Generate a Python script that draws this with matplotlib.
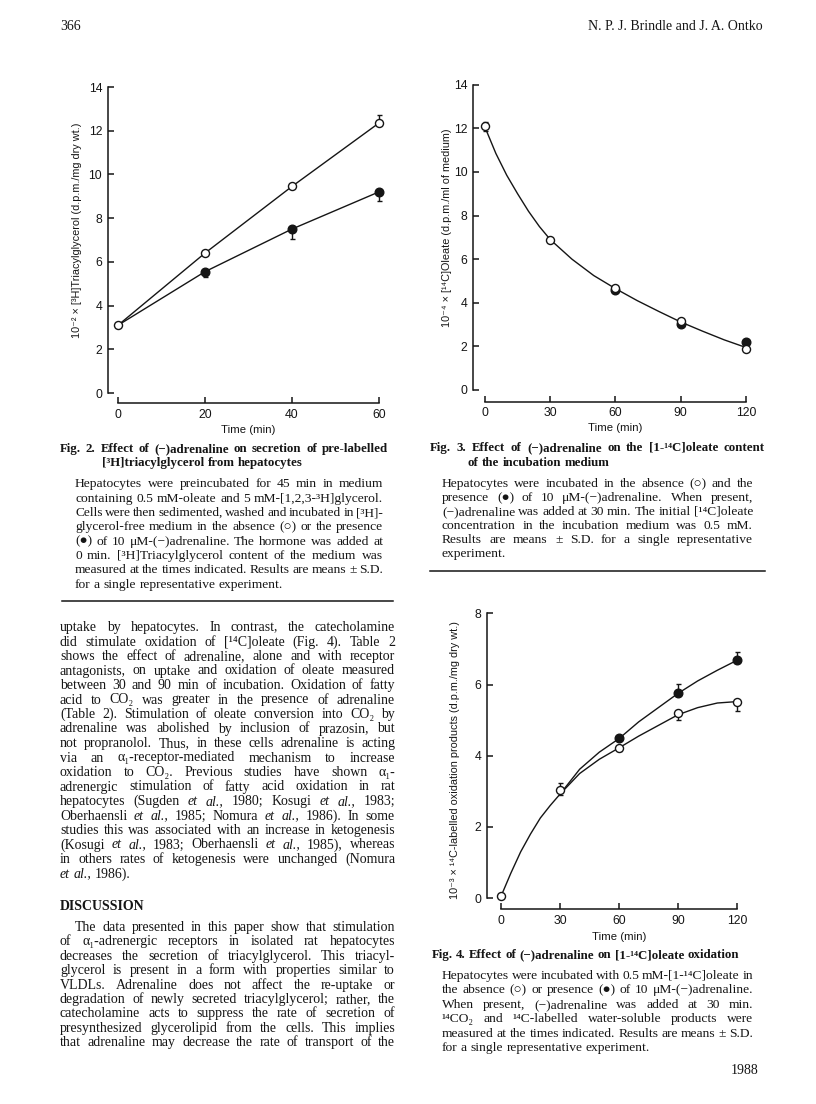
import matplotlib
matplotlib.use("Agg")
import matplotlib.pyplot as plt
from matplotlib.lines import Line2D
from matplotlib.transforms import IdentityTransform

W, H = 816, 1104
SERIF = ["Liberation Serif", "DejaVu Serif"]
SANS = ["Liberation Sans", "DejaVu Sans"]
INK = "#151515"
BODY = 10.0
CAPTION = 9.7
TITLE = 9.25

# ---- Fig. 2 : [3H]triacylglycerol secretion ----
fig2_time = [0, 20, 40, 60]
fig2_open = [3.1, 6.4, 9.45, 12.35]
fig2_open_err_up = [0, 0, 0, 0.35]
fig2_filled = [3.1, 5.55, 7.5, 9.2]
fig2_filled_err_down = [0, 0.22, 0.45, 0.4]

# ---- Fig. 3 : [14C]oleate in medium ----
fig3_open_time = [0, 30, 60, 90, 120]
fig3_open = [12.1, 6.9, 4.7, 3.17, 1.9]
fig3_open_err = [0.2, 0, 0, 0, 0]
fig3_filled_time = [60, 90, 120]
fig3_filled = [4.6, 3.05, 2.2]
fig3_curve_time = [0, 5, 10, 15, 20, 25, 30, 40, 50, 60, 70, 80, 90, 100, 110, 120]
fig3_curve = [12.05, 10.85, 9.85, 9.0, 8.2, 7.5, 6.9, 6.0, 5.25, 4.65, 4.1, 3.6, 3.12, 2.7, 2.3, 1.95]

# ---- Fig. 4 : oleate oxidation ----
fig4_open_time = [0, 30, 60, 90, 120]
fig4_open = [0.05, 3.05, 4.22, 5.2, 5.52]
fig4_open_err_low = [0, 0.15, 0.08, 0.2, 0.27]
fig4_open_err_high = [0, 0.17, 0, 0, 0]
fig4_filled_time = [60, 90, 120]
fig4_filled = [4.5, 5.77, 6.7]
fig4_filled_err_up = [0, 0.25, 0.2]
fig4_curve_time = [0, 5, 10, 15, 20, 25, 30]
fig4_curve = [0.05, 0.7, 1.3, 1.8, 2.25, 2.6, 2.92]
fig4_open_curve_time = [30, 40, 50, 60, 70, 80, 90, 100, 110, 120]
fig4_open_curve = [2.92, 3.5, 3.9, 4.22, 4.55, 4.85, 5.15, 5.35, 5.48, 5.52]
fig4_filled_curve_time = [30, 40, 50, 60, 70, 80, 90, 100, 110, 120]
fig4_filled_curve = [2.92, 3.62, 4.1, 4.48, 4.95, 5.35, 5.75, 6.1, 6.4, 6.68]

# ---- page text ----
fig2_title = ["Fig. 2. Effect of (−)adrenaline on secretion of pre-labelled",
              "[³H]triacylglycerol from hepatocytes"]
fig2_body = ["Hepatocytes were preincubated for 45 min in medium",
             "containing 0.5 mM-oleate and 5 mM-[1,2,3-³H]glycerol.",
             "Cells were then sedimented, washed and incubated in [³H]-",
             "glycerol-free medium in the absence (○) or the presence",
             "(●) of 10 μM-(−)adrenaline. The hormone was added at",
             "0 min. [³H]Triacylglycerol content of the medium was",
             "measured at the times indicated. Results are means ± S.D.",
             "for a single representative experiment."]
fig3_title = ["Fig. 3. Effect of (−)adrenaline on the [1-¹⁴C]oleate content",
              "of the incubation medium"]
fig3_body = ["Hepatocytes were incubated in the absence (○) and the",
             "presence (●) of 10 μM-(−)adrenaline. When present,",
             "(−)adrenaline was added at 30 min. The initial [¹⁴C]oleate",
             "concentration in the incubation medium was 0.5 mM.",
             "Results are means ± S.D. for a single representative",
             "experiment."]
fig4_title = ["Fig. 4. Effect of (−)adrenaline on [1-¹⁴C]oleate oxidation"]
fig4_body = ["Hepatocytes were incubated with 0.5 mM-[1-¹⁴C]oleate in",
             "the absence (○) or presence (●) of 10 μM-(−)adrenaline.",
             "When present, (−)adrenaline was added at 30 min.",
             "¹⁴CO₂ and ¹⁴C-labelled water-soluble products were",
             "measured at the times indicated. Results are means ± S.D.",
             "for a single representative experiment."]
results_text = ["uptake by hepatocytes. In contrast, the catecholamine",
                "did stimulate oxidation of [¹⁴C]oleate (Fig. 4). Table 2",
                "shows the effect of adrenaline, alone and with receptor",
                "antagonists, on uptake and oxidation of oleate measured",
                "between 30 and 90 min of incubation. Oxidation of fatty",
                "acid to CO₂ was greater in the presence of adrenaline",
                "(Table 2). Stimulation of oleate conversion into CO₂ by",
                "adrenaline was abolished by inclusion of prazosin, but",
                "not propranolol. Thus, in these cells adrenaline is acting",
                "via an α₁-receptor-mediated mechanism to increase",
                "oxidation to CO₂. Previous studies have shown α₁-",
                "adrenergic stimulation of fatty acid oxidation in rat",
                "hepatocytes (Sugden *et *al., 1980; Kosugi *et *al., 1983;",
                "Oberhaensli *et *al., 1985; Nomura *et *al., 1986). In some",
                "studies this was associated with an increase in ketogenesis",
                "(Kosugi *et *al., 1983; Oberhaensli *et *al., 1985), whereas",
                "in others rates of ketogenesis were unchanged (Nomura",
                "*et *al., 1986)."]
discussion_text = ["The data presented in this paper show that stimulation",
                   "of α₁-adrenergic receptors in isolated rat hepatocytes",
                   "decreases the secretion of triacylglycerol. This triacyl-",
                   "glycerol is present in a form with properties similar to",
                   "VLDLs. Adrenaline does not affect the re-uptake or",
                   "degradation of newly secreted triacylglycerol; rather, the",
                   "catecholamine acts to suppress the rate of secretion of",
                   "presynthesized glycerolipid from the cells. This implies",
                   "that adrenaline may decrease the rate of transport of the"]

fig = plt.figure(figsize=(W / 100, H / 100), dpi=100)
fig.patch.set_facecolor("white")
renderer = fig.canvas.get_renderer()


def put_line(x0, x1, y, line, size=BODY, weight="normal", justify=True):
    # place words one by one so the line can be justified between x0 and x1
    arts = []
    for w in line.split(" "):
        style = "normal"
        if w.startswith("*"):
            w, style = w[1:], "italic"
        arts.append(fig.text(0, 0, w, transform=IdentityTransform(), fontsize=size,
                             family=SERIF, weight=weight, style=style, color=INK,
                             ha="left", va="baseline"))
    widths = [a.get_window_extent(renderer).width for a in arts]
    gap = size * 0.25 * 100 / 72
    if justify and len(arts) > 1:
        gap = (x1 - x0 - sum(widths)) / (len(arts) - 1)
        if gap < 2.0:
            # squeeze the font a little when the line is too long
            scale = (x1 - x0 - 2.0 * (len(arts) - 1)) / sum(widths)
            for a in arts:
                a.set_fontsize(size * scale)
            widths = [a.get_window_extent(renderer).width for a in arts]
            gap = (x1 - x0 - sum(widths)) / (len(arts) - 1)
    x = x0
    for a, wd in zip(arts, widths):
        a.set_position((x, H - y - 4))
        x += wd + gap


def put_block(x0, x1, y0, step, lines, size=BODY, weight="normal", last_justified=False):
    for i, ln in enumerate(lines):
        last = i == len(lines) - 1
        put_line(x0, x1, y0 + i * step, ln, size, weight, justify=(not last) or last_justified)


def hrule(x0, x1, y):
    fig.add_artist(Line2D([x0, x1], [H - y, H - y], transform=IdentityTransform(),
                          color=INK, lw=1.1))


def px_axes(left, top, right, bottom):
    return fig.add_axes([left / W, 1 - bottom / H, (right - left) / W, (bottom - top) / H])


def style_axes(ax, xlim, ylim, xticks, yticks):
    ax.set_xlim(*xlim)
    ax.set_ylim(*ylim)
    ax.set_facecolor("none")
    for s in ("top", "right"):
        ax.spines[s].set_visible(False)
    ax.spines["left"].set_bounds(yticks[0], yticks[-1])
    ax.spines["bottom"].set_bounds(xticks[0], xticks[-1])
    for s in ("left", "bottom"):
        ax.spines[s].set_linewidth(1.1)
        ax.spines[s].set_color(INK)
    ax.set_xticks(xticks)
    ax.set_yticks(yticks)
    ax.tick_params(direction="in", length=4, width=1.1, colors=INK, labelsize=8.8, pad=4)
    for lb in ax.get_xticklabels() + ax.get_yticklabels():
        lb.set_family(SANS)


def open_pts(ax, x, y):
    ax.plot(x, y, "o", ms=5.8, mfc="white", mec=INK, mew=1.0, zorder=4, ls="none")


def filled_pts(ax, x, y):
    ax.plot(x, y, "o", ms=6.2, mfc=INK, mec=INK, zorder=4, ls="none")


def bars(ax, x, y, low, high):
    ax.errorbar(x, y, yerr=[low, high], fmt="none", ecolor=INK, elinewidth=1.0,
                capsize=1.8, capthick=1.0, zorder=2)


def ylab(x, y, s):
    fig.text(x, H - y, s, transform=IdentityTransform(), rotation=90, fontsize=7.8,
             family=SANS, color=INK, ha="center", va="center")


def xlab(x, y):
    fig.text(x, H - y, "Time (min)", transform=IdentityTransform(), fontsize=8.2,
             family=SANS, color=INK, ha="center", va="center")


# header
fig.text(60, H - 30, "366", transform=IdentityTransform(), fontsize=10, family=SERIF, color=INK)
fig.text(763, H - 30, "N. P. J. Brindle and J. A. Ontko", transform=IdentityTransform(),
         fontsize=10, family=SERIF, color=INK, ha="right")

# Fig. 2
ax2 = px_axes(107.7, 87, 385, 403)
ax2.plot(fig2_time, fig2_open, color=INK, lw=1.0, zorder=3)
ax2.plot(fig2_time, fig2_filled, color=INK, lw=1.0, zorder=3)
bars(ax2, fig2_time, fig2_open, [0] * 4, fig2_open_err_up)
bars(ax2, fig2_time, fig2_filled, fig2_filled_err_down, [0] * 4)
filled_pts(ax2, fig2_time[1:], fig2_filled[1:])
open_pts(ax2, fig2_time, fig2_open)
style_axes(ax2, (-2.37, 61.4), (-0.457, 14), [0, 20, 40, 60], list(range(0, 15, 2)))
ylab(77, 230, "10⁻² × [³H]Triacylglycerol (d.p.m./mg dry wt.)")
xlab(248, 430)

# Fig. 3
ax3 = px_axes(473, 84.8, 754, 401.7)
ax3.plot(fig3_curve_time, fig3_curve, color=INK, lw=1.0, zorder=3)
bars(ax3, fig3_open_time, fig3_open, fig3_open_err, fig3_open_err)
filled_pts(ax3, fig3_filled_time, fig3_filled)
open_pts(ax3, fig3_open_time, fig3_open)
style_axes(ax3, (-5.52, 123.7), (-0.537, 14), [0, 30, 60, 90, 120], list(range(0, 15, 2)))
ylab(447, 228, "10⁻⁴ × [¹⁴C]Oleate (d.p.m./ml of medium)")
xlab(615, 428)

# Fig. 4
ax4 = px_axes(487, 613.3, 745, 909)
ax4.plot(fig4_curve_time, fig4_curve, color=INK, lw=1.0, zorder=3)
ax4.plot(fig4_open_curve_time, fig4_open_curve, color=INK, lw=1.0, zorder=3)
ax4.plot(fig4_filled_curve_time, fig4_filled_curve, color=INK, lw=1.0, zorder=3)
bars(ax4, fig4_open_time, fig4_open, fig4_open_err_low, fig4_open_err_high)
bars(ax4, fig4_filled_time, fig4_filled, [0] * 3, fig4_filled_err_up)
filled_pts(ax4, fig4_filled_time, fig4_filled)
open_pts(ax4, fig4_open_time, fig4_open)
style_axes(ax4, (-7.12, 124.07), (-0.306, 8), [0, 30, 60, 90, 120], [0, 2, 4, 6, 8])
ylab(455, 760, "10⁻³ × ¹⁴C-labelled oxidation products (d.p.m./mg dry wt.)")
xlab(619, 937)

# captions
put_line(60, 388, 448, fig2_title[0], TITLE, "bold")
put_line(102, 388, 462, fig2_title[1], TITLE, "bold", justify=False)
put_block(75, 383, 483.3, 14.35, fig2_body, CAPTION)
hrule(62, 393, 600.7)

put_line(430, 765, 447, fig3_title[0], TITLE, "bold")
put_line(468, 765, 462, fig3_title[1], TITLE, "bold", justify=False)
put_block(442, 753, 483, 14.0, fig3_body, CAPTION)
hrule(430, 765, 571)

put_line(432, 765, 954, fig4_title[0], TITLE, "bold", justify=False)
put_block(442, 753, 975, 14.4, fig4_body, CAPTION)

# running text
put_block(60, 395, 627, 14.5, results_text)
fig.text(60, H - 910, "DISCUSSION", transform=IdentityTransform(), fontsize=BODY,
         family=SERIF, weight="bold", color=INK)
put_line(75, 395, 927, discussion_text[0])
put_block(60, 395, 941.4, 14.4, discussion_text[1:], last_justified=True)

fig.text(758, H - 1074, "1988", transform=IdentityTransform(), fontsize=BODY,
         family=SERIF, color=INK, ha="right")

fig.savefig("out.png", dpi=100, facecolor="white")
